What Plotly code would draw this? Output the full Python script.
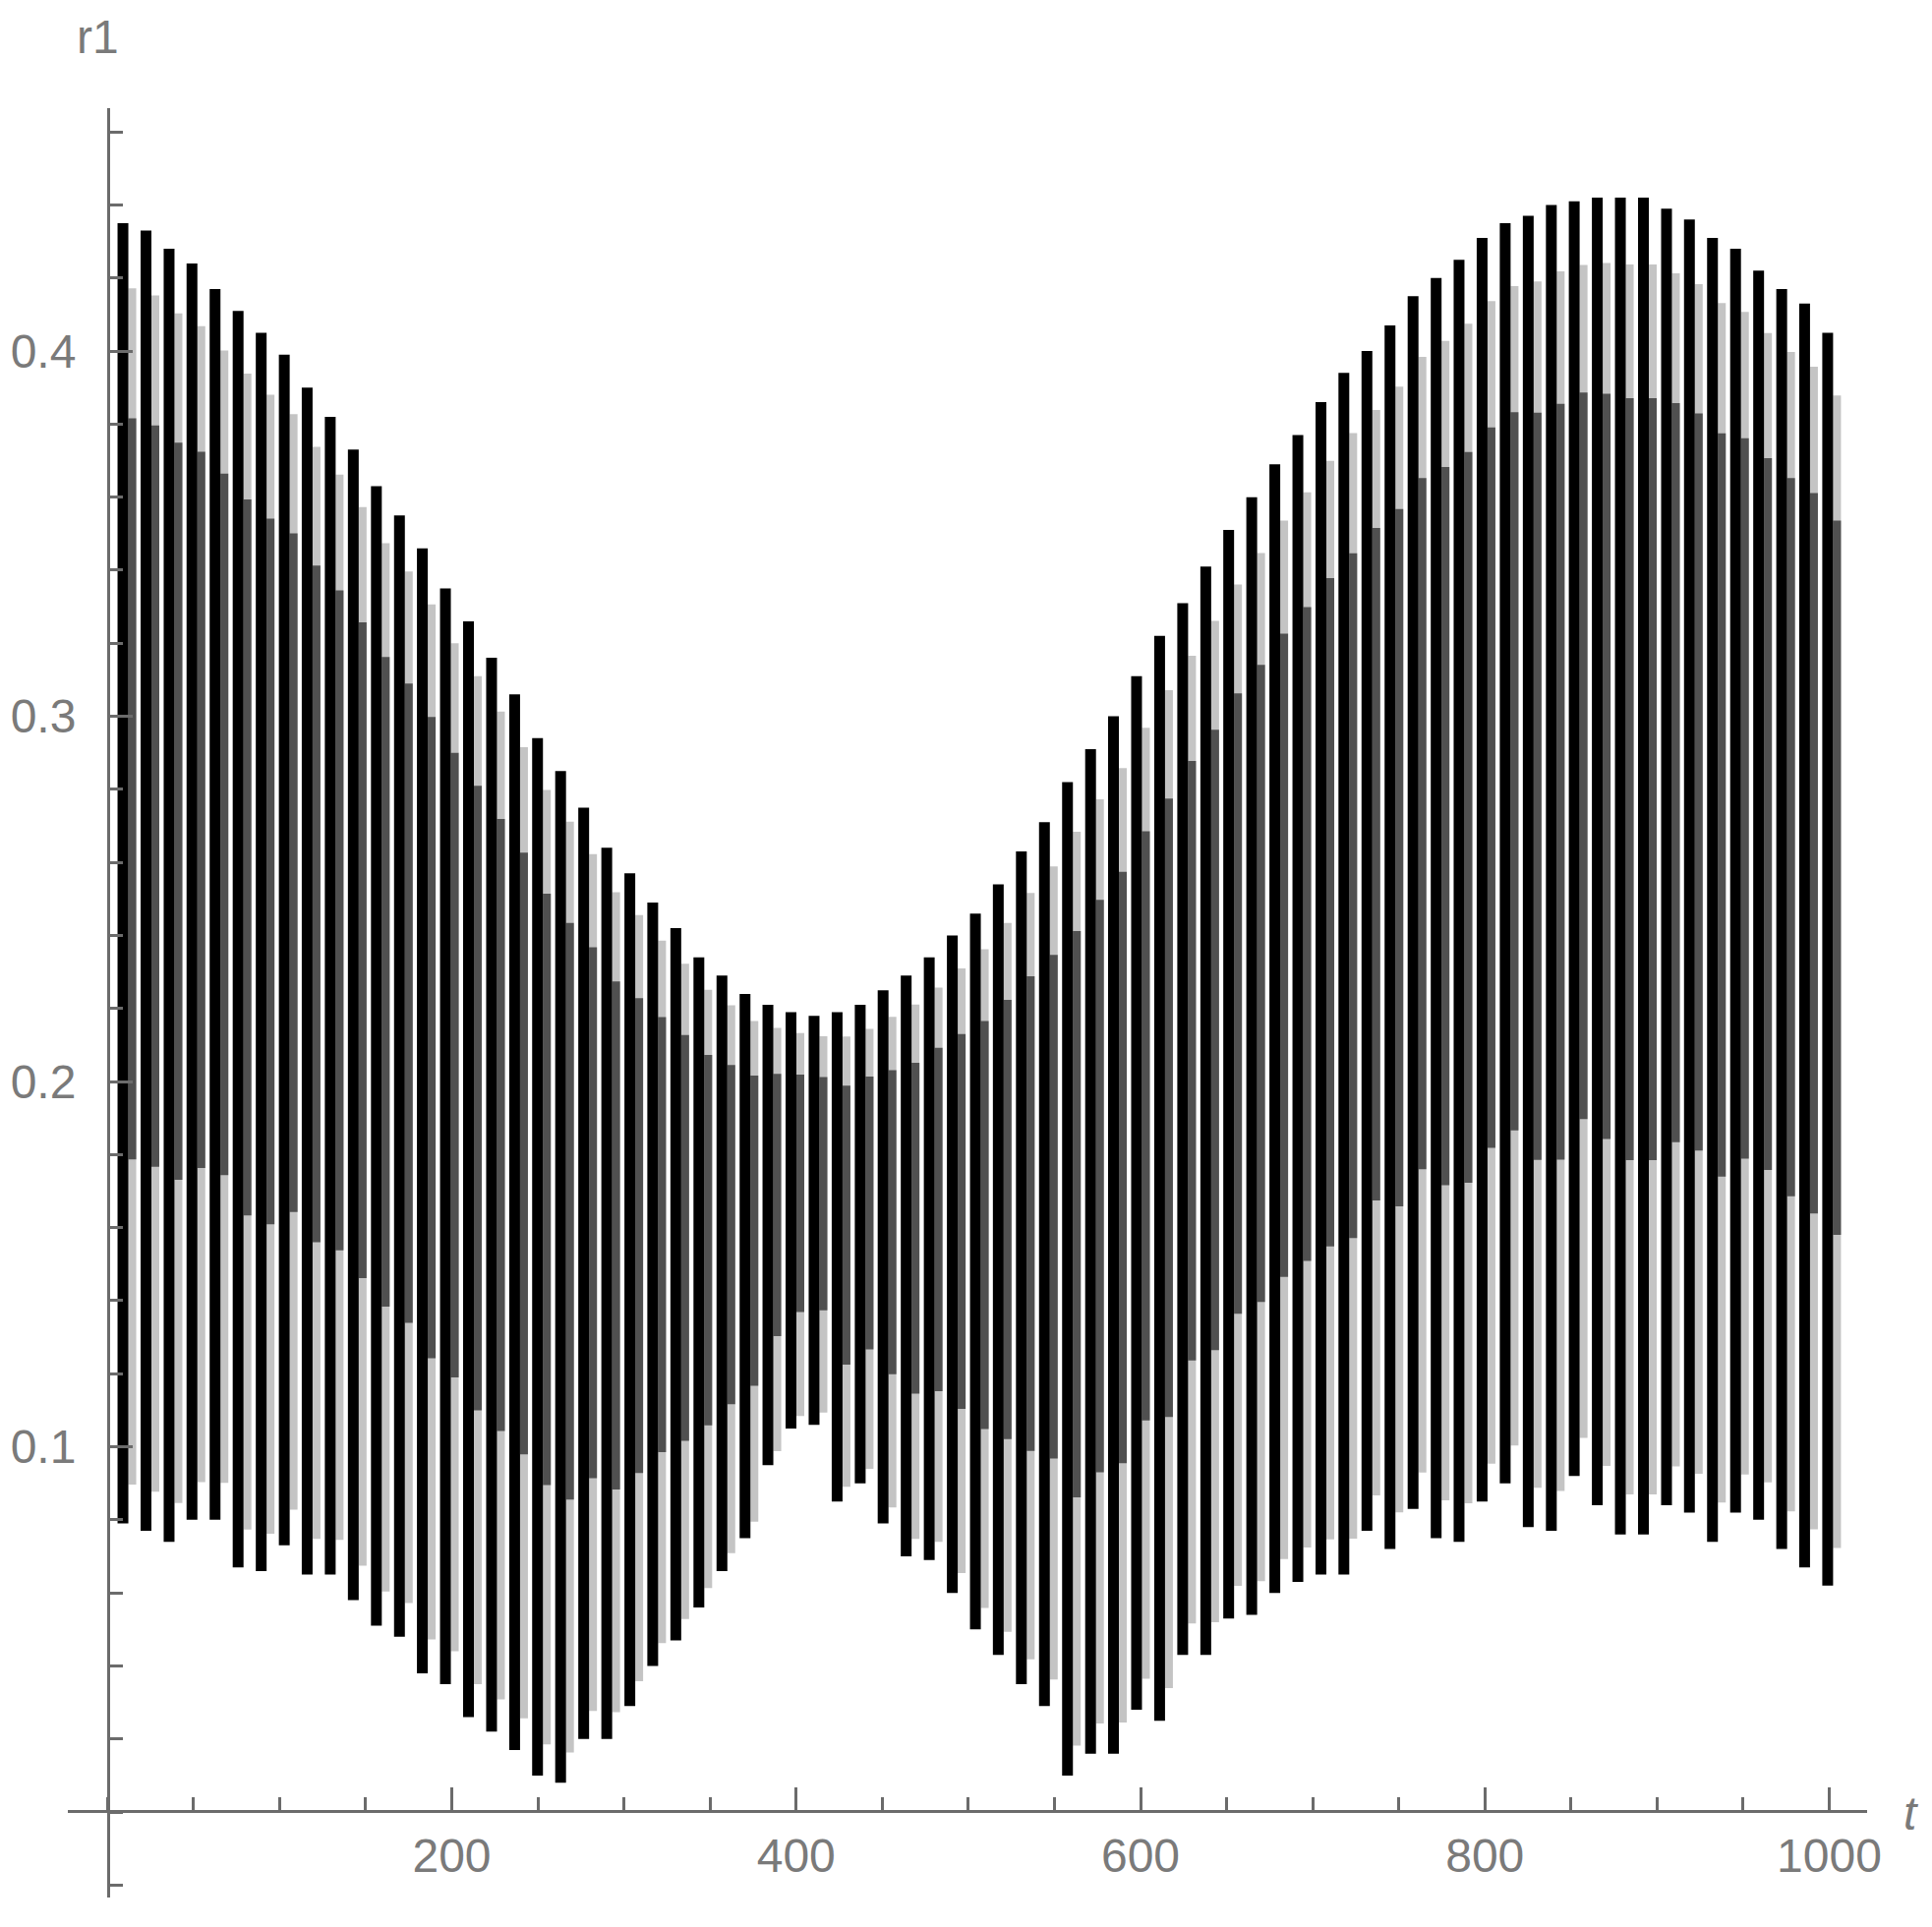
import plotly.graph_objects as go

# stripe centres (t) and the extreme values of r1 within each oscillation
t_centres = [9.0, 22.4, 35.8, 49.1, 62.5, 75.9, 89.3, 102.7, 116.0, 129.4,
             142.8, 156.2, 169.6, 182.9, 196.3, 209.7, 223.1, 236.5, 249.8, 263.2,
             276.6, 290.0, 303.4, 316.7, 330.1, 343.5, 356.9, 370.3, 383.6, 397.0,
             410.4, 423.8, 437.2, 450.5, 463.9, 477.3, 490.7, 504.1, 517.4, 530.8,
             544.2, 557.6, 571.0, 584.3, 597.7, 611.1, 624.5, 637.9, 651.2, 664.6,
             678.0, 691.4, 704.8, 718.1, 731.5, 744.9, 758.3, 771.7, 785.0, 798.4,
             811.8, 825.2, 838.6, 851.9, 865.3, 878.7, 892.1, 905.5, 918.8, 932.2,
             945.6, 959.0, 972.4, 985.7, 999.1]

peaks = [0.435, 0.433, 0.428, 0.424, 0.417, 0.411, 0.405, 0.399, 0.390, 0.382,
         0.373, 0.363, 0.355, 0.346, 0.335, 0.326, 0.316, 0.306, 0.294, 0.285,
         0.275, 0.264, 0.257, 0.249, 0.242, 0.234, 0.229, 0.224, 0.221, 0.219,
         0.218, 0.219, 0.221, 0.225, 0.229, 0.234, 0.240, 0.246, 0.254, 0.263,
         0.271, 0.282, 0.291, 0.300, 0.311, 0.322, 0.331, 0.341, 0.351, 0.360,
         0.369, 0.377, 0.386, 0.394, 0.400, 0.407, 0.415, 0.420, 0.425, 0.431,
         0.435, 0.437, 0.440, 0.441, 0.442, 0.442, 0.442, 0.439, 0.436, 0.431,
         0.428, 0.422, 0.417, 0.413, 0.405]

troughs = [0.079, 0.077, 0.074, 0.080, 0.080, 0.067, 0.066, 0.073, 0.065, 0.065,
           0.058, 0.051, 0.048, 0.038, 0.035, 0.026, 0.022, 0.017, 0.010, 0.008,
           0.020, 0.020, 0.029, 0.040, 0.047, 0.056, 0.066, 0.075, 0.095, 0.105,
           0.106, 0.085, 0.090, 0.079, 0.070, 0.069, 0.060, 0.050, 0.043, 0.035,
           0.029, 0.010, 0.016, 0.016, 0.028, 0.025, 0.043, 0.043, 0.053, 0.054,
           0.060, 0.063, 0.065, 0.065, 0.077, 0.072, 0.083, 0.075, 0.074, 0.085,
           0.090, 0.078, 0.077, 0.092, 0.084, 0.076, 0.076, 0.084, 0.082, 0.074,
           0.082, 0.080, 0.072, 0.067, 0.062]

x_ticks = [200, 400, 600, 800, 1000]
y_ticks = [0.1, 0.2, 0.3, 0.4]

# ---- layout geometry (page body has an 8px default margin on every side) ----
OFF = 8
W, H = 1965 - 2 * OFF, 1960 - 2 * OFF


def fx(px):  # full-window x pixel -> paper fraction
    return (px - OFF) / W


def fy(py):  # full-window y pixel -> paper fraction (from bottom)
    return 1 - (py - OFF) / H


X0, X1 = 69, 1899          # x-axis line extent (px)
T0, T1 = -23, 1022          # corresponding t range
Y0, Y1 = 110, 1930          # y-axis line extent (px), top / bottom
R_TOP, R_BOT = 0.4665, -0.0234
UNITS_PER_PX = (T1 - T0) / (X1 - X0)

black_x, black_y = [], []
light_x, light_y = [], []
dark_x, dark_y = [], []
side = 9.5 * UNITS_PER_PX
for t, lo, hi in zip(t_centres, troughs, peaks):
    span = hi - lo
    black_x += [t, t, None]
    black_y += [lo, hi, None]
    light_x += [t + side, t + side, None]
    light_y += [lo + 0.03 * span, hi - 0.05 * span, None]
    dark_x += [t + side, t + side, None]
    dark_y += [lo + 0.28 * span, hi - 0.15 * span, None]

AX = "#6b6b6b"
TXT = "#7a7a7a"
FONT = "Liberation Sans"

fig = go.Figure()
fig.add_trace(go.Scatter(x=light_x, y=light_y, mode="lines",
                         line=dict(color="#c4c4c4", width=8),
                         hoverinfo="skip", showlegend=False))
fig.add_trace(go.Scatter(x=dark_x, y=dark_y, mode="lines",
                         line=dict(color="#505050", width=8),
                         hoverinfo="skip", showlegend=False))
fig.add_trace(go.Scatter(x=black_x, y=black_y, mode="lines",
                         line=dict(color="#000000", width=11),
                         showlegend=False))

fig.update_layout(
    width=W, height=H, autosize=False,
    margin=dict(l=0, r=0, t=0, b=0, pad=0),
    paper_bgcolor="white", plot_bgcolor="white",
    xaxis=dict(
        domain=[fx(X0), fx(X1)], range=[T0, T1], automargin=False,
        anchor="free", position=fy(1842),
        showgrid=False, zeroline=False,
        showline=True, linecolor=AX, linewidth=3,
        tickmode="array", tickvals=x_ticks, ticktext=[str(v) for v in x_ticks],
        ticks="inside", ticklen=23, tickwidth=3, tickcolor=AX,
        minor=dict(dtick=50, tick0=0, ticks="inside", ticklen=13,
                   tickwidth=3, tickcolor=AX, showgrid=False),
        tickfont=dict(family=FONT, size=48, color=TXT),
        ticklabelstandoff=2,
    ),
    yaxis=dict(
        domain=[fy(Y1), fy(Y0)], range=[R_BOT, R_TOP], automargin=False,
        anchor="free", position=fx(110),
        showgrid=False, zeroline=False,
        showline=True, linecolor=AX, linewidth=3,
        tickmode="array", tickvals=y_ticks, ticktext=[str(v) for v in y_ticks],
        ticks="inside", ticklen=23, tickwidth=3, tickcolor=AX,
        minor=dict(dtick=0.02, tick0=0, ticks="inside", ticklen=13,
                   tickwidth=3, tickcolor=AX, showgrid=False),
        tickfont=dict(family=FONT, size=48, color=TXT),
        ticklabelstandoff=22,
    ),
    annotations=[
        dict(text="r1", x=fx(99), y=fy(37), xref="paper", yref="paper",
             xanchor="center", yanchor="middle", showarrow=False,
             font=dict(family=FONT, size=48, color=TXT)),
        dict(text="<i>t</i>", x=fx(1943), y=fy(1844), xref="paper", yref="paper",
             xanchor="center", yanchor="middle", showarrow=False,
             font=dict(family=FONT, size=48, color=TXT)),
    ],
)

fig.write_html("out.html")
